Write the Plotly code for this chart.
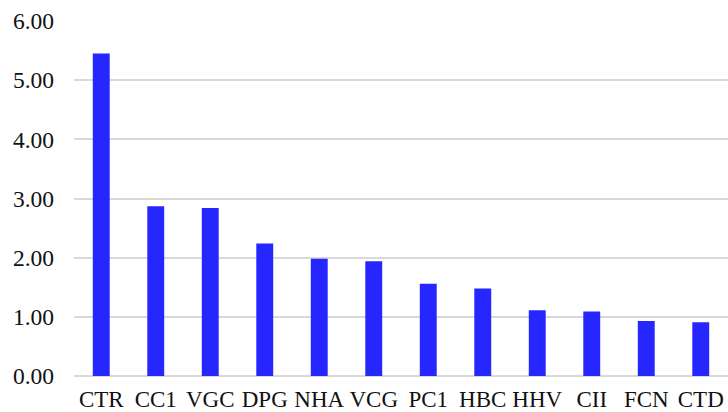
import plotly.graph_objects as go

categories = ["CTR", "CC1", "VGC", "DPG", "NHA", "VCG", "PC1", "HBC", "HHV", "CII", "FCN", "CTD"]
values = [5.45, 2.87, 2.84, 2.24, 1.98, 1.94, 1.56, 1.48, 1.11, 1.09, 0.93, 0.91]
y_ticks = [0, 1, 2, 3, 4, 5, 6]

fig = go.Figure(go.Bar(x=categories, y=values, marker=dict(color="#2626FF", line=dict(width=0)), width=0.31))

fig.update_layout(
    width=728, height=412,
    margin=dict(l=74, r=0, t=21, b=36, autoexpand=False),
    paper_bgcolor="white", plot_bgcolor="white",
    font=dict(family="Liberation Serif", size=23, color="#111111"),
    showlegend=False,
)
fig.update_xaxes(showgrid=False, showline=False, ticks="", ticklen=0, automargin=False,
                 tickfont=dict(size=23), ticklabelstandoff=7)
fig.update_yaxes(range=[0, 6.0], tickvals=y_ticks, tickformat=".2f", showgrid=True,
                 gridcolor="#d9d9d9", gridwidth=1.5, zeroline=True, zerolinecolor="#d9d9d9",
                 zerolinewidth=1.5, ticks="", automargin=False, tickfont=dict(size=23.5),
                 ticklabelstandoff=19)
fig.write_html("out.html", config={"displayModeBar": False},
               post_script="document.body.style.margin='0';document.body.style.overflow='hidden';")
